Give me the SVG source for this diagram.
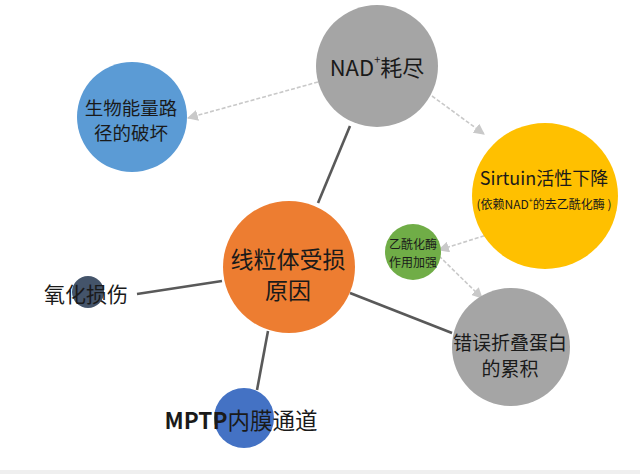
<svg xmlns="http://www.w3.org/2000/svg" width="640" height="474" viewBox="0 0 640 474">
<defs>
<style>
.t{font-family:"Noto Sans CJK SC","Liberation Sans",sans-serif;fill:#1a1a1a;text-anchor:middle;dominant-baseline:central}
.solid{stroke:#595959;stroke-width:2.6;fill:none}
.dash{stroke:#c9c9c9;stroke-width:1.6;stroke-dasharray:4 2;fill:none}
</style>
<marker id="ah" viewBox="0 0 10 10" refX="9" refY="5" markerWidth="11" markerHeight="11" markerUnits="userSpaceOnUse" orient="auto">
<path d="M0,0 L10,5 L0,10 z" fill="#c9c9c9"/>
</marker>
</defs>
<rect x="0" y="0" width="640" height="474" fill="#ffffff"/>
<rect x="0" y="470" width="640" height="4" fill="#efefef"/>
<g id="connectors">
<line class="solid" x1="350" y1="126" x2="318" y2="203"/>
<line class="solid" x1="222" y1="281" x2="137" y2="294"/>
<line class="solid" x1="268" y1="331" x2="257" y2="390"/>
<line class="solid" x1="350" y1="293" x2="452" y2="333"/>
<line class="dash" x1="318" y1="82" x2="188" y2="118" marker-end="url(#ah)"/>
<line class="dash" x1="432" y1="96" x2="484" y2="134" marker-end="url(#ah)"/>
<line class="dash" x1="490" y1="234" x2="439" y2="250" marker-end="url(#ah)"/>
<line class="dash" x1="439" y1="256" x2="482" y2="298" marker-end="url(#ah)"/>
</g>
<g id="nad">
<circle cx="377" cy="66" r="61" fill="#a5a5a5"/>
<text class="t" x="377" y="66" font-size="22">NAD<tspan font-size="11" dy="-7">+</tspan><tspan dy="7">耗尽</tspan></text>
</g>
<g id="bio">
<circle cx="132" cy="117" r="55" fill="#5b9bd5"/>
<text class="t" x="131" y="107" font-size="18.5">生物能量路</text>
<text class="t" x="131" y="132" font-size="18.5">径的破坏</text>
</g>
<g id="sirtuin">
<circle cx="545" cy="196" r="73" fill="#ffc000"/>
<text class="t" x="544" y="177" font-size="18">Sirtuin活性下降</text>
<text class="t" x="544" y="203" font-size="12">(依赖NAD<tspan font-size="7" dy="-3">+</tspan><tspan dy="3">的去乙酰化酶 )</tspan></text>
</g>
<g id="acetyl">
<circle cx="413" cy="252" r="28" fill="#70ad47"/>
<text class="t" x="413" y="243" font-size="12">乙酰化酶</text>
<text class="t" x="413" y="261" font-size="12">作用加强</text>
</g>
<g id="misfold">
<circle cx="511" cy="347" r="59" fill="#a5a5a5"/>
<text class="t" x="510" y="341" font-size="19">错误折叠蛋白</text>
<text class="t" x="510" y="367" font-size="19">的累积</text>
</g>
<g id="center">
<circle cx="289" cy="267" r="66" fill="#ed7d31"/>
<text class="t" x="288" y="258" font-size="23">线粒体受损</text>
<text class="t" x="288" y="289" font-size="23">原因</text>
</g>
<g id="oxid">
<circle cx="88" cy="292" r="16" fill="#44546a"/>
<text class="t" x="86" y="293" font-size="21">氧化损伤</text>
</g>
<g id="mptp">
<circle cx="244" cy="418" r="30" fill="#4472c4"/>
<text class="t" x="241" y="419" font-size="22.5"><tspan font-weight="bold">MPTP</tspan>内膜通道</text>
</g>
</svg>
